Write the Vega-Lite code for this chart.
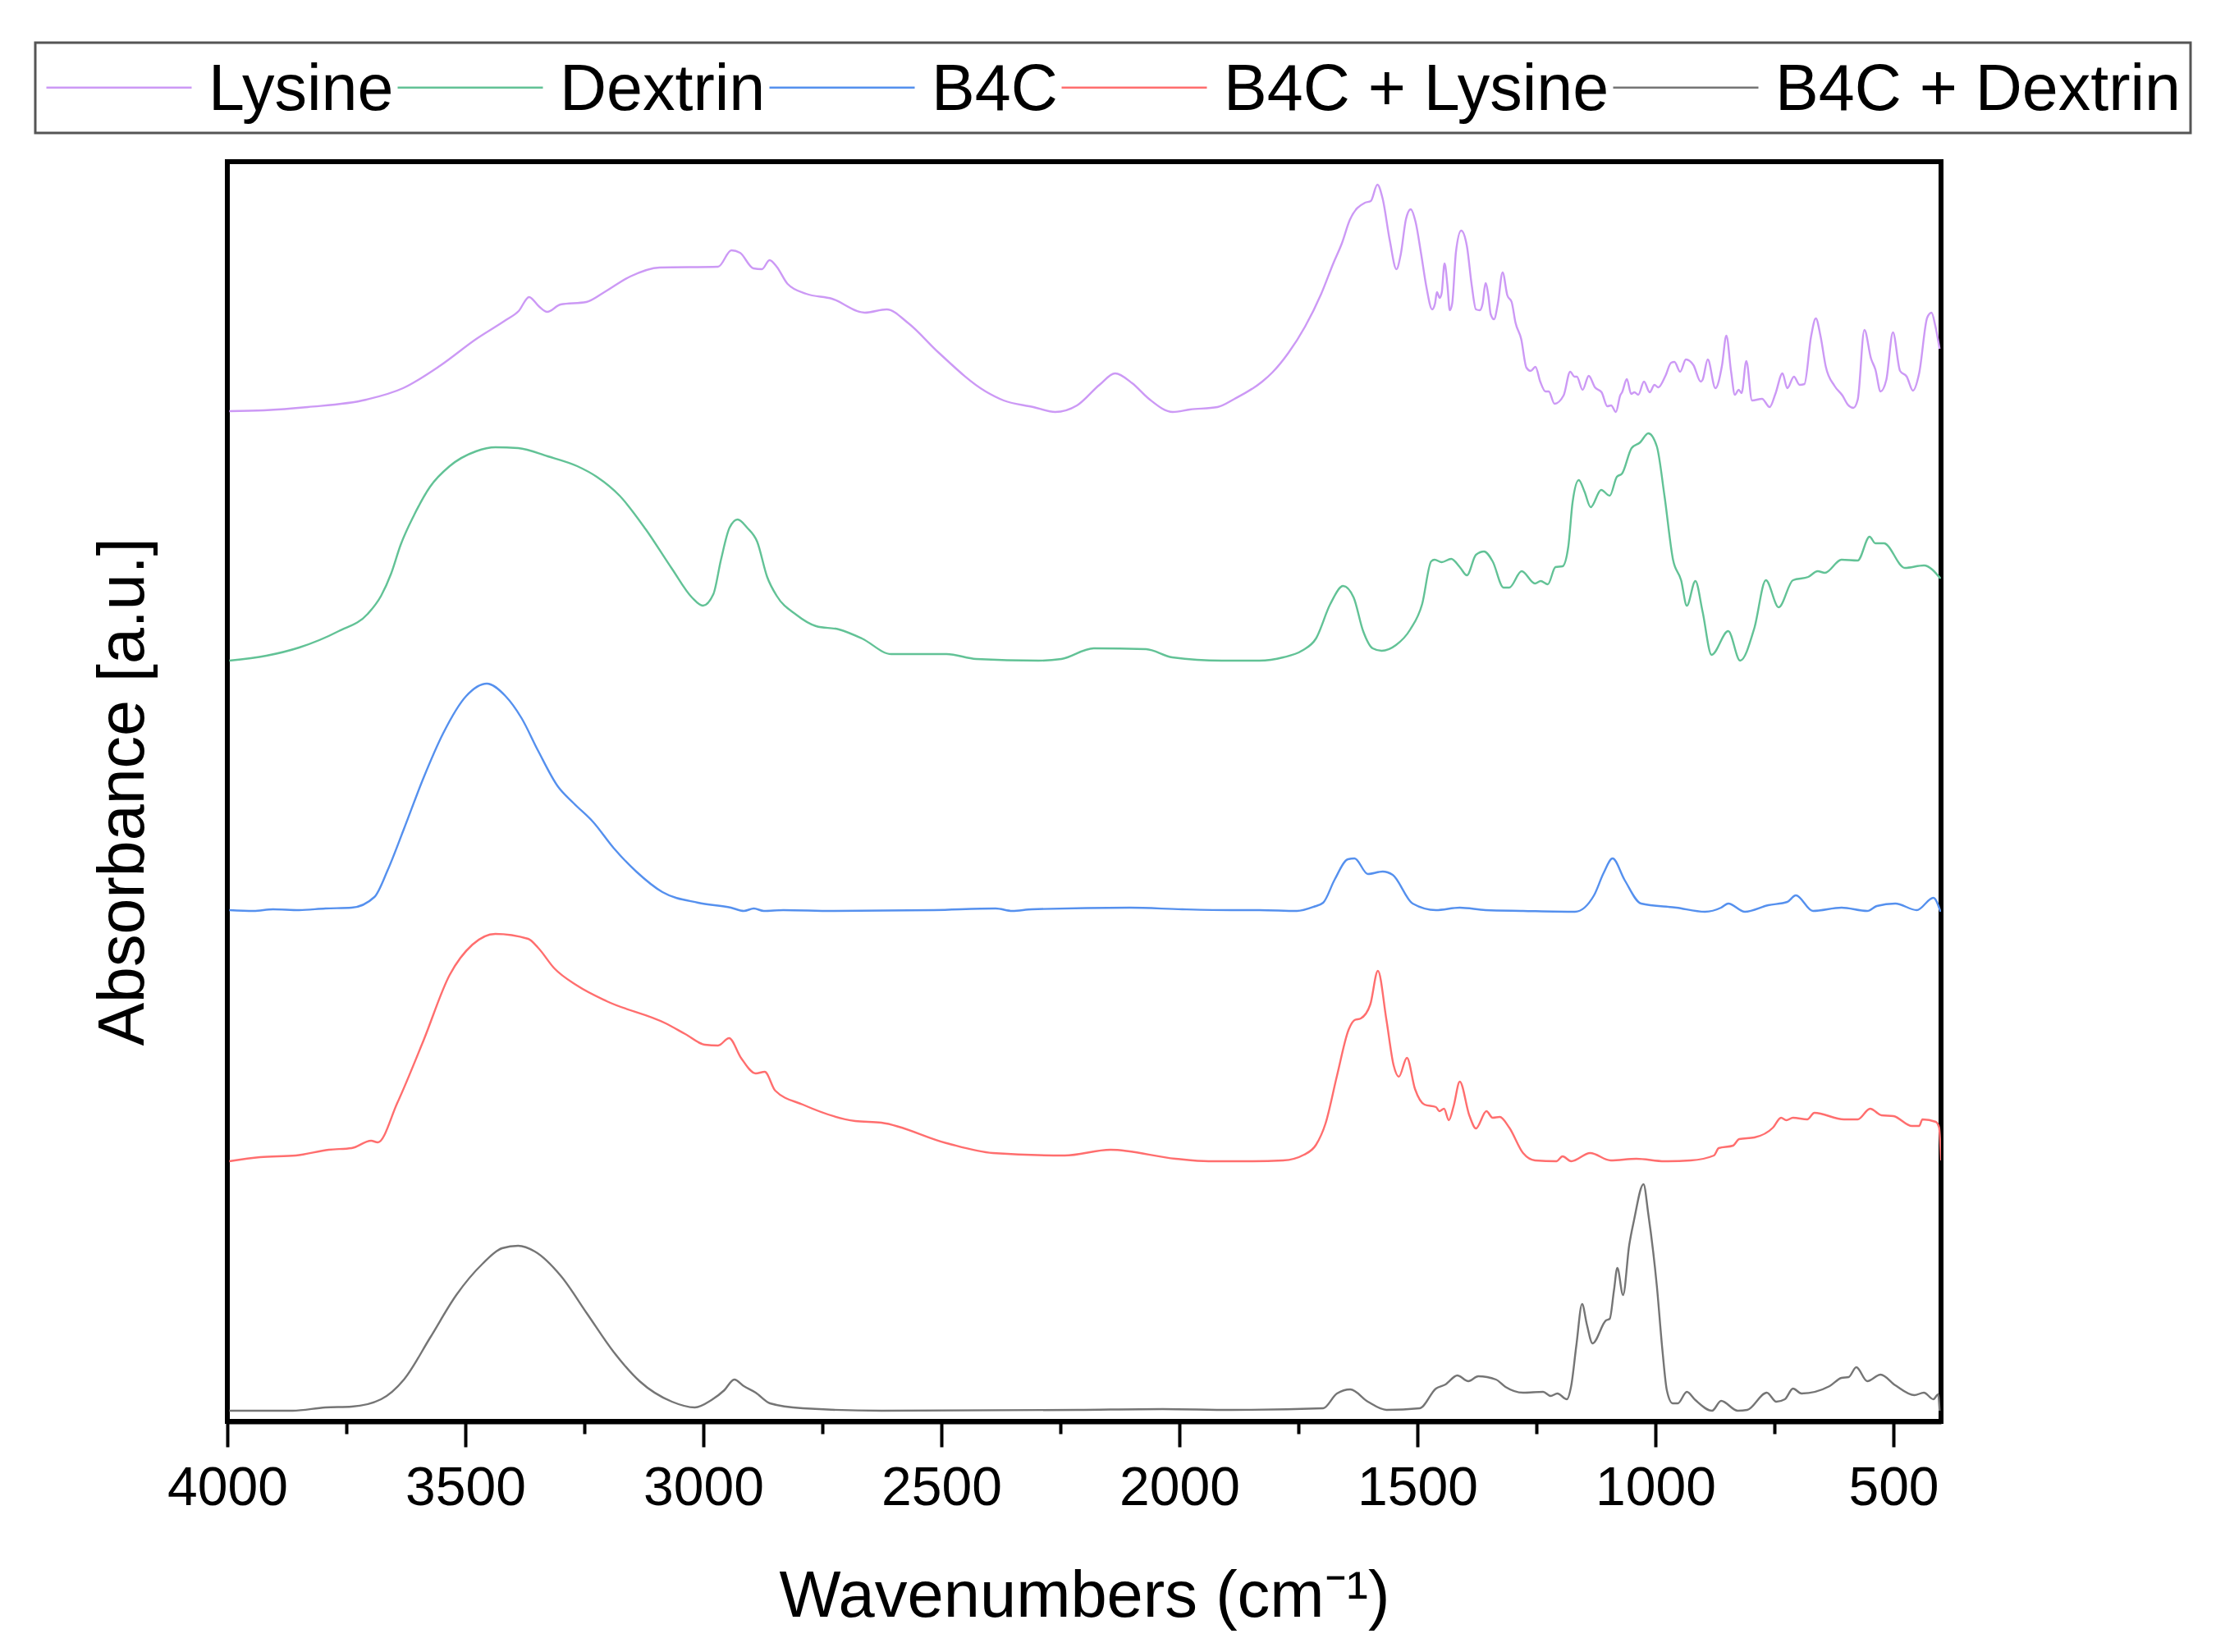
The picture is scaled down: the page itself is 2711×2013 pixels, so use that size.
{
"$schema":"https://vega.github.io/schema/vega-lite/v6.json",
"width":2088,"height":1535,
"autosize":"none",
"padding":{"left":277,"top":197,"right":346,"bottom":281},
"background":"white",
"config":{"view":{"stroke":"#000","strokeWidth":6},"font":"Liberation Sans","legend":{"strokeWidth":3}},
"datasets":{"spectra":[
{"name":"Lysine","wn":3996,"abs":1231},{"name":"Lysine","wn":3923,"abs":1232},{"name":"Lysine","wn":3831,"abs":1236},{"name":"Lysine","wn":3708,"abs":1245},{"name":"Lysine","wn":3631,"abs":1259},{"name":"Lysine","wn":3554,"abs":1286},{"name":"Lysine","wn":3477,"abs":1319},{"name":"Lysine","wn":3415,"abs":1342},{"name":"Lysine","wn":3388,"abs":1353},{"name":"Lysine","wn":3366,"abs":1370},{"name":"Lysine","wn":3346,"abs":1359},{"name":"Lysine","wn":3328,"abs":1352},{"name":"Lysine","wn":3300,"abs":1361},{"name":"Lysine","wn":3246,"abs":1364},{"name":"Lysine","wn":3208,"abs":1376},{"name":"Lysine","wn":3154,"abs":1395},{"name":"Lysine","wn":3092,"abs":1406},{"name":"Lysine","wn":2969,"abs":1407},{"name":"Lysine","wn":2941,"abs":1427},{"name":"Lysine","wn":2923,"abs":1424},{"name":"Lysine","wn":2895,"abs":1405},{"name":"Lysine","wn":2877,"abs":1404},{"name":"Lysine","wn":2861,"abs":1415},{"name":"Lysine","wn":2846,"abs":1407},{"name":"Lysine","wn":2823,"abs":1386},{"name":"Lysine","wn":2784,"abs":1374},{"name":"Lysine","wn":2730,"abs":1368},{"name":"Lysine","wn":2661,"abs":1351},{"name":"Lysine","wn":2615,"abs":1355},{"name":"Lysine","wn":2569,"abs":1338},{"name":"Lysine","wn":2507,"abs":1303},{"name":"Lysine","wn":2407,"abs":1255},{"name":"Lysine","wn":2369,"abs":1244},{"name":"Lysine","wn":2307,"abs":1236},{"name":"Lysine","wn":2261,"abs":1230},{"name":"Lysine","wn":2215,"abs":1238},{"name":"Lysine","wn":2168,"abs":1263},{"name":"Lysine","wn":2135,"abs":1277},{"name":"Lysine","wn":2099,"abs":1265},{"name":"Lysine","wn":2064,"abs":1246},{"name":"Lysine","wn":2014,"abs":1230},{"name":"Lysine","wn":1978,"abs":1233},{"name":"Lysine","wn":1920,"abs":1236},{"name":"Lysine","wn":1884,"abs":1246},{"name":"Lysine","wn":1826,"abs":1267},{"name":"Lysine","wn":1805,"abs":1278},{"name":"Lysine","wn":1771,"abs":1302},{"name":"Lysine","wn":1736,"abs":1334},{"name":"Lysine","wn":1702,"abs":1374},{"name":"Lysine","wn":1676,"abs":1412},{"name":"Lysine","wn":1659,"abs":1435},{"name":"Lysine","wn":1642,"abs":1464},{"name":"Lysine","wn":1610,"abs":1485},{"name":"Lysine","wn":1598,"abs":1487},{"name":"Lysine","wn":1584,"abs":1507},{"name":"Lysine","wn":1573,"abs":1490},{"name":"Lysine","wn":1558,"abs":1439},{"name":"Lysine","wn":1544,"abs":1404},{"name":"Lysine","wn":1535,"abs":1422},{"name":"Lysine","wn":1524,"abs":1465},{"name":"Lysine","wn":1514,"abs":1477},{"name":"Lysine","wn":1504,"abs":1462},{"name":"Lysine","wn":1492,"abs":1422},{"name":"Lysine","wn":1481,"abs":1382},{"name":"Lysine","wn":1469,"abs":1355},{"name":"Lysine","wn":1463,"abs":1362},{"name":"Lysine","wn":1459,"abs":1376},{"name":"Lysine","wn":1453,"abs":1369},{"name":"Lysine","wn":1449,"abs":1375},{"name":"Lysine","wn":1443,"abs":1411},{"name":"Lysine","wn":1437,"abs":1385},{"name":"Lysine","wn":1432,"abs":1354},{"name":"Lysine","wn":1427,"abs":1362},{"name":"Lysine","wn":1419,"abs":1425},{"name":"Lysine","wn":1408,"abs":1451},{"name":"Lysine","wn":1396,"abs":1432},{"name":"Lysine","wn":1386,"abs":1385},{"name":"Lysine","wn":1377,"abs":1355},{"name":"Lysine","wn":1369,"abs":1354},{"name":"Lysine","wn":1363,"abs":1362},{"name":"Lysine","wn":1357,"abs":1387},{"name":"Lysine","wn":1351,"abs":1372},{"name":"Lysine","wn":1346,"abs":1349},{"name":"Lysine","wn":1339,"abs":1343},{"name":"Lysine","wn":1331,"abs":1362},{"name":"Lysine","wn":1321,"abs":1400},{"name":"Lysine","wn":1311,"abs":1372},{"name":"Lysine","wn":1302,"abs":1364},{"name":"Lysine","wn":1294,"abs":1339},{"name":"Lysine","wn":1282,"abs":1319},{"name":"Lysine","wn":1271,"abs":1284},{"name":"Lysine","wn":1262,"abs":1280},{"name":"Lysine","wn":1252,"abs":1285},{"name":"Lysine","wn":1242,"abs":1267},{"name":"Lysine","wn":1231,"abs":1255},{"name":"Lysine","wn":1224,"abs":1255},{"name":"Lysine","wn":1212,"abs":1240},{"name":"Lysine","wn":1193,"abs":1250},{"name":"Lysine","wn":1179,"abs":1279},{"name":"Lysine","wn":1170,"abs":1273},{"name":"Lysine","wn":1165,"abs":1273},{"name":"Lysine","wn":1153,"abs":1257},{"name":"Lysine","wn":1140,"abs":1274},{"name":"Lysine","wn":1127,"abs":1260},{"name":"Lysine","wn":1113,"abs":1254},{"name":"Lysine","wn":1101,"abs":1237},{"name":"Lysine","wn":1093,"abs":1238},{"name":"Lysine","wn":1083,"abs":1230},{"name":"Lysine","wn":1074,"abs":1250},{"name":"Lysine","wn":1070,"abs":1254},{"name":"Lysine","wn":1060,"abs":1270},{"name":"Lysine","wn":1051,"abs":1252},{"name":"Lysine","wn":1044,"abs":1254},{"name":"Lysine","wn":1036,"abs":1251},{"name":"Lysine","wn":1024,"abs":1267},{"name":"Lysine","wn":1012,"abs":1254},{"name":"Lysine","wn":1002,"abs":1263},{"name":"Lysine","wn":994,"abs":1260},{"name":"Lysine","wn":979,"abs":1274},{"name":"Lysine","wn":967,"abs":1290},{"name":"Lysine","wn":960,"abs":1291},{"name":"Lysine","wn":948,"abs":1279},{"name":"Lysine","wn":936,"abs":1294},{"name":"Lysine","wn":920,"abs":1287},{"name":"Lysine","wn":905,"abs":1267},{"name":"Lysine","wn":901,"abs":1269},{"name":"Lysine","wn":890,"abs":1294},{"name":"Lysine","wn":874,"abs":1259},{"name":"Lysine","wn":860,"abs":1287},{"name":"Lysine","wn":851,"abs":1323},{"name":"Lysine","wn":841,"abs":1279},{"name":"Lysine","wn":833,"abs":1251},{"name":"Lysine","wn":825,"abs":1257},{"name":"Lysine","wn":819,"abs":1253},{"name":"Lysine","wn":809,"abs":1292},{"name":"Lysine","wn":797,"abs":1244},{"name":"Lysine","wn":776,"abs":1246},{"name":"Lysine","wn":760,"abs":1236},{"name":"Lysine","wn":748,"abs":1252},{"name":"Lysine","wn":733,"abs":1277},{"name":"Lysine","wn":723,"abs":1259},{"name":"Lysine","wn":709,"abs":1273},{"name":"Lysine","wn":697,"abs":1263},{"name":"Lysine","wn":687,"abs":1264},{"name":"Lysine","wn":673,"abs":1322},{"name":"Lysine","wn":663,"abs":1344},{"name":"Lysine","wn":653,"abs":1322},{"name":"Lysine","wn":642,"abs":1285},{"name":"Lysine","wn":624,"abs":1262},{"name":"Lysine","wn":607,"abs":1250},{"name":"Lysine","wn":596,"abs":1239},{"name":"Lysine","wn":584,"abs":1235},{"name":"Lysine","wn":575,"abs":1245},{"name":"Lysine","wn":561,"abs":1330},{"name":"Lysine","wn":547,"abs":1295},{"name":"Lysine","wn":538,"abs":1282},{"name":"Lysine","wn":527,"abs":1255},{"name":"Lysine","wn":515,"abs":1269},{"name":"Lysine","wn":501,"abs":1327},{"name":"Lysine","wn":486,"abs":1280},{"name":"Lysine","wn":472,"abs":1273},{"name":"Lysine","wn":459,"abs":1256},{"name":"Lysine","wn":446,"abs":1277},{"name":"Lysine","wn":429,"abs":1345},{"name":"Lysine","wn":420,"abs":1351},{"name":"Lysine","wn":412,"abs":1335},{"name":"Lysine","wn":403,"abs":1307},
{"name":"Dextrin","wn":3996,"abs":927},{"name":"Dextrin","wn":3918,"abs":933},{"name":"Dextrin","wn":3849,"abs":943},{"name":"Dextrin","wn":3766,"abs":963},{"name":"Dextrin","wn":3705,"abs":984},{"name":"Dextrin","wn":3677,"abs":1006},{"name":"Dextrin","wn":3656,"abs":1033},{"name":"Dextrin","wn":3636,"abs":1068},{"name":"Dextrin","wn":3608,"abs":1104},{"name":"Dextrin","wn":3574,"abs":1139},{"name":"Dextrin","wn":3533,"abs":1164},{"name":"Dextrin","wn":3478,"abs":1182},{"name":"Dextrin","wn":3437,"abs":1187},{"name":"Dextrin","wn":3389,"abs":1186},{"name":"Dextrin","wn":3327,"abs":1176},{"name":"Dextrin","wn":3265,"abs":1164},{"name":"Dextrin","wn":3224,"abs":1151},{"name":"Dextrin","wn":3176,"abs":1128},{"name":"Dextrin","wn":3121,"abs":1087},{"name":"Dextrin","wn":3066,"abs":1039},{"name":"Dextrin","wn":3024,"abs":1004},{"name":"Dextrin","wn":3001,"abs":994},{"name":"Dextrin","wn":2979,"abs":1008},{"name":"Dextrin","wn":2963,"abs":1050},{"name":"Dextrin","wn":2945,"abs":1089},{"name":"Dextrin","wn":2928,"abs":1099},{"name":"Dextrin","wn":2908,"abs":1089},{"name":"Dextrin","wn":2887,"abs":1072},{"name":"Dextrin","wn":2866,"abs":1029},{"name":"Dextrin","wn":2846,"abs":1006},{"name":"Dextrin","wn":2805,"abs":983},{"name":"Dextrin","wn":2763,"abs":969},{"name":"Dextrin","wn":2715,"abs":965},{"name":"Dextrin","wn":2667,"abs":954},{"name":"Dextrin","wn":2605,"abs":935},{"name":"Dextrin","wn":2489,"abs":935},{"name":"Dextrin","wn":2427,"abs":929},{"name":"Dextrin","wn":2296,"abs":927},{"name":"Dextrin","wn":2248,"abs":929},{"name":"Dextrin","wn":2180,"abs":942},{"name":"Dextrin","wn":2070,"abs":941},{"name":"Dextrin","wn":2015,"abs":931},{"name":"Dextrin","wn":1911,"abs":927},{"name":"Dextrin","wn":1832,"abs":927},{"name":"Dextrin","wn":1782,"abs":931},{"name":"Dextrin","wn":1743,"abs":939},{"name":"Dextrin","wn":1713,"abs":954},{"name":"Dextrin","wn":1683,"abs":996},{"name":"Dextrin","wn":1656,"abs":1018},{"name":"Dextrin","wn":1634,"abs":1004},{"name":"Dextrin","wn":1614,"abs":963},{"name":"Dextrin","wn":1594,"abs":942},{"name":"Dextrin","wn":1575,"abs":939},{"name":"Dextrin","wn":1545,"abs":946},{"name":"Dextrin","wn":1515,"abs":965},{"name":"Dextrin","wn":1490,"abs":996},{"name":"Dextrin","wn":1471,"abs":1048},{"name":"Dextrin","wn":1464,"abs":1050},{"name":"Dextrin","wn":1449,"abs":1047},{"name":"Dextrin","wn":1429,"abs":1051},{"name":"Dextrin","wn":1411,"abs":1041},{"name":"Dextrin","wn":1396,"abs":1031},{"name":"Dextrin","wn":1377,"abs":1056},{"name":"Dextrin","wn":1360,"abs":1060},{"name":"Dextrin","wn":1342,"abs":1048},{"name":"Dextrin","wn":1319,"abs":1016},{"name":"Dextrin","wn":1307,"abs":1016},{"name":"Dextrin","wn":1281,"abs":1036},{"name":"Dextrin","wn":1253,"abs":1021},{"name":"Dextrin","wn":1241,"abs":1024},{"name":"Dextrin","wn":1226,"abs":1020},{"name":"Dextrin","wn":1210,"abs":1041},{"name":"Dextrin","wn":1195,"abs":1042},{"name":"Dextrin","wn":1183,"abs":1066},{"name":"Dextrin","wn":1174,"abs":1120},{"name":"Dextrin","wn":1161,"abs":1147},{"name":"Dextrin","wn":1149,"abs":1133},{"name":"Dextrin","wn":1136,"abs":1114},{"name":"Dextrin","wn":1114,"abs":1135},{"name":"Dextrin","wn":1096,"abs":1128},{"name":"Dextrin","wn":1081,"abs":1151},{"name":"Dextrin","wn":1070,"abs":1155},{"name":"Dextrin","wn":1050,"abs":1186},{"name":"Dextrin","wn":1032,"abs":1193},{"name":"Dextrin","wn":1015,"abs":1204},{"name":"Dextrin","wn":997,"abs":1188},{"name":"Dextrin","wn":981,"abs":1128},{"name":"Dextrin","wn":963,"abs":1050},{"name":"Dextrin","wn":946,"abs":1025},{"name":"Dextrin","wn":934,"abs":994},{"name":"Dextrin","wn":916,"abs":1024},{"name":"Dextrin","wn":901,"abs":987},{"name":"Dextrin","wn":882,"abs":934},{"name":"Dextrin","wn":847,"abs":963},{"name":"Dextrin","wn":822,"abs":927},{"name":"Dextrin","wn":792,"abs":967},{"name":"Dextrin","wn":768,"abs":1025},{"name":"Dextrin","wn":741,"abs":992},{"name":"Dextrin","wn":711,"abs":1025},{"name":"Dextrin","wn":679,"abs":1029},{"name":"Dextrin","wn":659,"abs":1036},{"name":"Dextrin","wn":644,"abs":1034},{"name":"Dextrin","wn":609,"abs":1050},{"name":"Dextrin","wn":575,"abs":1049},{"name":"Dextrin","wn":550,"abs":1078},{"name":"Dextrin","wn":538,"abs":1070},{"name":"Dextrin","wn":520,"abs":1070},{"name":"Dextrin","wn":476,"abs":1040},{"name":"Dextrin","wn":436,"abs":1043},{"name":"Dextrin","wn":401,"abs":1027},
{"name":"B4C","wn":3996,"abs":623},{"name":"B4C","wn":3945,"abs":622},{"name":"B4C","wn":3904,"abs":624},{"name":"B4C","wn":3849,"abs":623},{"name":"B4C","wn":3794,"abs":625},{"name":"B4C","wn":3739,"abs":626},{"name":"B4C","wn":3691,"abs":639},{"name":"B4C","wn":3663,"abs":672},{"name":"B4C","wn":3629,"abs":722},{"name":"B4C","wn":3588,"abs":784},{"name":"B4C","wn":3547,"abs":838},{"name":"B4C","wn":3498,"abs":884},{"name":"B4C","wn":3455,"abs":899},{"name":"B4C","wn":3416,"abs":884},{"name":"B4C","wn":3382,"abs":857},{"name":"B4C","wn":3347,"abs":817},{"name":"B4C","wn":3306,"abs":774},{"name":"B4C","wn":3272,"abs":753},{"name":"B4C","wn":3231,"abs":730},{"name":"B4C","wn":3189,"abs":699},{"name":"B4C","wn":3141,"abs":670},{"name":"B4C","wn":3086,"abs":645},{"name":"B4C","wn":3011,"abs":632},{"name":"B4C","wn":2942,"abs":626},{"name":"B4C","wn":2915,"abs":622},{"name":"B4C","wn":2894,"abs":625},{"name":"B4C","wn":2873,"abs":622},{"name":"B4C","wn":2832,"abs":623},{"name":"B4C","wn":2729,"abs":622},{"name":"B4C","wn":2516,"abs":623},{"name":"B4C","wn":2386,"abs":625},{"name":"B4C","wn":2351,"abs":622},{"name":"B4C","wn":2310,"abs":624},{"name":"B4C","wn":2104,"abs":626},{"name":"B4C","wn":1994,"abs":624},{"name":"B4C","wn":1891,"abs":623},{"name":"B4C","wn":1832,"abs":623},{"name":"B4C","wn":1753,"abs":622},{"name":"B4C","wn":1718,"abs":627},{"name":"B4C","wn":1698,"abs":632},{"name":"B4C","wn":1674,"abs":660},{"name":"B4C","wn":1646,"abs":685},{"name":"B4C","wn":1632,"abs":686},{"name":"B4C","wn":1604,"abs":667},{"name":"B4C","wn":1573,"abs":670},{"name":"B4C","wn":1552,"abs":666},{"name":"B4C","wn":1510,"abs":631},{"name":"B4C","wn":1461,"abs":623},{"name":"B4C","wn":1411,"abs":626},{"name":"B4C","wn":1357,"abs":623},{"name":"B4C","wn":1278,"abs":622},{"name":"B4C","wn":1169,"abs":621},{"name":"B4C","wn":1129,"abs":641},{"name":"B4C","wn":1109,"abs":668},{"name":"B4C","wn":1090,"abs":686},{"name":"B4C","wn":1065,"abs":660},{"name":"B4C","wn":1030,"abs":631},{"name":"B4C","wn":956,"abs":626},{"name":"B4C","wn":896,"abs":621},{"name":"B4C","wn":862,"abs":626},{"name":"B4C","wn":847,"abs":631},{"name":"B4C","wn":812,"abs":621},{"name":"B4C","wn":763,"abs":629},{"name":"B4C","wn":723,"abs":633},{"name":"B4C","wn":705,"abs":641},{"name":"B4C","wn":669,"abs":622},{"name":"B4C","wn":609,"abs":626},{"name":"B4C","wn":555,"abs":622},{"name":"B4C","wn":535,"abs":628},{"name":"B4C","wn":496,"abs":631},{"name":"B4C","wn":451,"abs":623},{"name":"B4C","wn":416,"abs":638},{"name":"B4C","wn":401,"abs":621},
{"name":"B4C + Lysine","wn":3996,"abs":317},{"name":"B4C + Lysine","wn":3931,"abs":322},{"name":"B4C + Lysine","wn":3856,"abs":324},{"name":"B4C + Lysine","wn":3787,"abs":331},{"name":"B4C + Lysine","wn":3739,"abs":333},{"name":"B4C + Lysine","wn":3698,"abs":342},{"name":"B4C + Lysine","wn":3684,"abs":340},{"name":"B4C + Lysine","wn":3643,"abs":388},{"name":"B4C + Lysine","wn":3588,"abs":464},{"name":"B4C + Lysine","wn":3533,"abs":544},{"name":"B4C + Lysine","wn":3485,"abs":581},{"name":"B4C + Lysine","wn":3437,"abs":594},{"name":"B4C + Lysine","wn":3368,"abs":588},{"name":"B4C + Lysine","wn":3347,"abs":577},{"name":"B4C + Lysine","wn":3313,"abs":552},{"name":"B4C + Lysine","wn":3265,"abs":531},{"name":"B4C + Lysine","wn":3203,"abs":512},{"name":"B4C + Lysine","wn":3079,"abs":485},{"name":"B4C + Lysine","wn":3038,"abs":472},{"name":"B4C + Lysine","wn":2997,"abs":459},{"name":"B4C + Lysine","wn":2969,"abs":458},{"name":"B4C + Lysine","wn":2946,"abs":467},{"name":"B4C + Lysine","wn":2921,"abs":443},{"name":"B4C + Lysine","wn":2890,"abs":424},{"name":"B4C + Lysine","wn":2871,"abs":426},{"name":"B4C + Lysine","wn":2849,"abs":403},{"name":"B4C + Lysine","wn":2791,"abs":386},{"name":"B4C + Lysine","wn":2681,"abs":366},{"name":"B4C + Lysine","wn":2626,"abs":364},{"name":"B4C + Lysine","wn":2489,"abs":339},{"name":"B4C + Lysine","wn":2392,"abs":327},{"name":"B4C + Lysine","wn":2241,"abs":324},{"name":"B4C + Lysine","wn":2145,"abs":331},{"name":"B4C + Lysine","wn":2008,"abs":320},{"name":"B4C + Lysine","wn":1939,"abs":317},{"name":"B4C + Lysine","wn":1846,"abs":317},{"name":"B4C + Lysine","wn":1782,"abs":318},{"name":"B4C + Lysine","wn":1738,"abs":325},{"name":"B4C + Lysine","wn":1713,"abs":337},{"name":"B4C + Lysine","wn":1693,"abs":363},{"name":"B4C + Lysine","wn":1669,"abs":421},{"name":"B4C + Lysine","wn":1644,"abs":478},{"name":"B4C + Lysine","wn":1632,"abs":489},{"name":"B4C + Lysine","wn":1619,"abs":491},{"name":"B4C + Lysine","wn":1599,"abs":508},{"name":"B4C + Lysine","wn":1583,"abs":549},{"name":"B4C + Lysine","wn":1565,"abs":489},{"name":"B4C + Lysine","wn":1550,"abs":434},{"name":"B4C + Lysine","wn":1539,"abs":420},{"name":"B4C + Lysine","wn":1522,"abs":443},{"name":"B4C + Lysine","wn":1505,"abs":405},{"name":"B4C + Lysine","wn":1485,"abs":386},{"name":"B4C + Lysine","wn":1461,"abs":383},{"name":"B4C + Lysine","wn":1454,"abs":378},{"name":"B4C + Lysine","wn":1444,"abs":381},{"name":"B4C + Lysine","wn":1434,"abs":367},{"name":"B4C + Lysine","wn":1424,"abs":384},{"name":"B4C + Lysine","wn":1411,"abs":414},{"name":"B4C + Lysine","wn":1391,"abs":373},{"name":"B4C + Lysine","wn":1377,"abs":357},{"name":"B4C + Lysine","wn":1355,"abs":378},{"name":"B4C + Lysine","wn":1342,"abs":370},{"name":"B4C + Lysine","wn":1327,"abs":371},{"name":"B4C + Lysine","wn":1307,"abs":358},{"name":"B4C + Lysine","wn":1278,"abs":327},{"name":"B4C + Lysine","wn":1253,"abs":318},{"name":"B4C + Lysine","wn":1208,"abs":317},{"name":"B4C + Lysine","wn":1195,"abs":323},{"name":"B4C + Lysine","wn":1177,"abs":317},{"name":"B4C + Lysine","wn":1137,"abs":327},{"name":"B4C + Lysine","wn":1094,"abs":318},{"name":"B4C + Lysine","wn":1040,"abs":320},{"name":"B4C + Lysine","wn":981,"abs":317},{"name":"B4C + Lysine","wn":926,"abs":318},{"name":"B4C + Lysine","wn":877,"abs":324},{"name":"B4C + Lysine","wn":867,"abs":333},{"name":"B4C + Lysine","wn":837,"abs":336},{"name":"B4C + Lysine","wn":824,"abs":344},{"name":"B4C + Lysine","wn":792,"abs":346},{"name":"B4C + Lysine","wn":753,"abs":358},{"name":"B4C + Lysine","wn":736,"abs":370},{"name":"B4C + Lysine","wn":725,"abs":367},{"name":"B4C + Lysine","wn":711,"abs":370},{"name":"B4C + Lysine","wn":681,"abs":368},{"name":"B4C + Lysine","wn":666,"abs":376},{"name":"B4C + Lysine","wn":604,"abs":368},{"name":"B4C + Lysine","wn":575,"abs":368},{"name":"B4C + Lysine","wn":549,"abs":381},{"name":"B4C + Lysine","wn":525,"abs":373},{"name":"B4C + Lysine","wn":500,"abs":372},{"name":"B4C + Lysine","wn":461,"abs":360},{"name":"B4C + Lysine","wn":446,"abs":360},{"name":"B4C + Lysine","wn":439,"abs":368},{"name":"B4C + Lysine","wn":411,"abs":365},{"name":"B4C + Lysine","wn":404,"abs":358},{"name":"B4C + Lysine","wn":400,"abs":318},
{"name":"B4C + Dextrin","wn":3996,"abs":13},{"name":"B4C + Dextrin","wn":3863,"abs":13},{"name":"B4C + Dextrin","wn":3794,"abs":17},{"name":"B4C + Dextrin","wn":3739,"abs":18},{"name":"B4C + Dextrin","wn":3677,"abs":27},{"name":"B4C + Dextrin","wn":3629,"abs":51},{"name":"B4C + Dextrin","wn":3574,"abs":102},{"name":"B4C + Dextrin","wn":3519,"abs":154},{"name":"B4C + Dextrin","wn":3464,"abs":192},{"name":"B4C + Dextrin","wn":3423,"abs":211},{"name":"B4C + Dextrin","wn":3389,"abs":214},{"name":"B4C + Dextrin","wn":3354,"abs":207},{"name":"B4C + Dextrin","wn":3299,"abs":177},{"name":"B4C + Dextrin","wn":3244,"abs":131},{"name":"B4C + Dextrin","wn":3189,"abs":85},{"name":"B4C + Dextrin","wn":3134,"abs":49},{"name":"B4C + Dextrin","wn":3066,"abs":24},{"name":"B4C + Dextrin","wn":3018,"abs":17},{"name":"B4C + Dextrin","wn":2983,"abs":26},{"name":"B4C + Dextrin","wn":2956,"abs":38},{"name":"B4C + Dextrin","wn":2935,"abs":51},{"name":"B4C + Dextrin","wn":2915,"abs":43},{"name":"B4C + Dextrin","wn":2890,"abs":35},{"name":"B4C + Dextrin","wn":2860,"abs":22},{"name":"B4C + Dextrin","wn":2791,"abs":16},{"name":"B4C + Dextrin","wn":2626,"abs":13},{"name":"B4C + Dextrin","wn":2214,"abs":14},{"name":"B4C + Dextrin","wn":2035,"abs":15},{"name":"B4C + Dextrin","wn":1891,"abs":14},{"name":"B4C + Dextrin","wn":1698,"abs":16},{"name":"B4C + Dextrin","wn":1669,"abs":34},{"name":"B4C + Dextrin","wn":1641,"abs":39},{"name":"B4C + Dextrin","wn":1604,"abs":24},{"name":"B4C + Dextrin","wn":1565,"abs":14},{"name":"B4C + Dextrin","wn":1495,"abs":16},{"name":"B4C + Dextrin","wn":1461,"abs":40},{"name":"B4C + Dextrin","wn":1441,"abs":45},{"name":"B4C + Dextrin","wn":1416,"abs":56},{"name":"B4C + Dextrin","wn":1393,"abs":49},{"name":"B4C + Dextrin","wn":1372,"abs":55},{"name":"B4C + Dextrin","wn":1335,"abs":51},{"name":"B4C + Dextrin","wn":1315,"abs":42},{"name":"B4C + Dextrin","wn":1278,"abs":35},{"name":"B4C + Dextrin","wn":1236,"abs":36},{"name":"B4C + Dextrin","wn":1220,"abs":31},{"name":"B4C + Dextrin","wn":1206,"abs":34},{"name":"B4C + Dextrin","wn":1186,"abs":27},{"name":"B4C + Dextrin","wn":1177,"abs":43},{"name":"B4C + Dextrin","wn":1166,"abs":93},{"name":"B4C + Dextrin","wn":1154,"abs":143},{"name":"B4C + Dextrin","wn":1144,"abs":118},{"name":"B4C + Dextrin","wn":1132,"abs":95},{"name":"B4C + Dextrin","wn":1104,"abs":123},{"name":"B4C + Dextrin","wn":1096,"abs":125},{"name":"B4C + Dextrin","wn":1087,"abs":160},{"name":"B4C + Dextrin","wn":1080,"abs":187},{"name":"B4C + Dextrin","wn":1068,"abs":154},{"name":"B4C + Dextrin","wn":1055,"abs":215},{"name":"B4C + Dextrin","wn":1045,"abs":245},{"name":"B4C + Dextrin","wn":1025,"abs":289},{"name":"B4C + Dextrin","wn":1015,"abs":253},{"name":"B4C + Dextrin","wn":997,"abs":165},{"name":"B4C + Dextrin","wn":985,"abs":85},{"name":"B4C + Dextrin","wn":976,"abs":38},{"name":"B4C + Dextrin","wn":964,"abs":22},{"name":"B4C + Dextrin","wn":953,"abs":22},{"name":"B4C + Dextrin","wn":934,"abs":36},{"name":"B4C + Dextrin","wn":916,"abs":26},{"name":"B4C + Dextrin","wn":881,"abs":13},{"name":"B4C + Dextrin","wn":862,"abs":25},{"name":"B4C + Dextrin","wn":827,"abs":13},{"name":"B4C + Dextrin","wn":807,"abs":14},{"name":"B4C + Dextrin","wn":766,"abs":35},{"name":"B4C + Dextrin","wn":746,"abs":24},{"name":"B4C + Dextrin","wn":728,"abs":27},{"name":"B4C + Dextrin","wn":711,"abs":40},{"name":"B4C + Dextrin","wn":693,"abs":34},{"name":"B4C + Dextrin","wn":634,"abs":43},{"name":"B4C + Dextrin","wn":609,"abs":53},{"name":"B4C + Dextrin","wn":594,"abs":54},{"name":"B4C + Dextrin","wn":578,"abs":66},{"name":"B4C + Dextrin","wn":555,"abs":49},{"name":"B4C + Dextrin","wn":527,"abs":57},{"name":"B4C + Dextrin","wn":496,"abs":44},{"name":"B4C + Dextrin","wn":456,"abs":32},{"name":"B4C + Dextrin","wn":436,"abs":35},{"name":"B4C + Dextrin","wn":416,"abs":27},{"name":"B4C + Dextrin","wn":406,"abs":33},{"name":"B4C + Dextrin","wn":403,"abs":13}
]},
"data":{"name":"spectra"},
"mark":{"type":"line","strokeWidth":2.4,"clip":true,"interpolate":"monotone"},
"encoding":{
"x":{"field":"wn","type":"quantitative","title":"Wavenumbers (cm⁻¹)",
"scale":{"domain":[4000,400],"nice":false,"zero":false},
"axis":{"values":[4000,3750,3500,3250,3000,2750,2500,2250,2000,1750,1500,1250,1000,750,500],
"format":"d","labelExpr":"datum.value % 500 === 0 ? datum.label : ''",
"grid":false,"domain":true,"domainColor":"#000","domainWidth":6,"tickColor":"#000","tickWidth":4,
"tickSize":{"condition":{"test":"datum.value % 500 === 0","value":31},"value":15},
"labelFont":"Liberation Sans","labelFontSize":66,"labelColor":"#000","labelPadding":18,"labelOverlap":false,"labelFlush":false,
"titleFont":"Liberation Sans","titleFontSize":79.5,"titleFontWeight":"normal","titleColor":"#000","titlePadding":60}},
"y":{"field":"abs","type":"quantitative","title":"Absorbance [a.u.]",
"scale":{"domain":[0,1535],"nice":false},
"axis":{"ticks":false,"labels":false,"grid":false,"domain":false,
"titleFont":"Liberation Sans","titleFontSize":79,"titleFontWeight":"normal","titleColor":"#000","titlePadding":86}},
"color":{"field":"name","type":"nominal",
"scale":{"domain":["Lysine","Dextrin","B4C","B4C + Lysine","B4C + Dextrin"],"range":["#cc99f5","#62c296","#5590ee","#ff6e6e","#757575"]},
"legend":{"orient":"none","legendX":-234,"legendY":-145,"direction":"horizontal","columns":5,"title":null,
"symbolType":"stroke","symbolSize":31329,"symbolStrokeWidth":2.5,"clipHeight":85,
"labelFont":"Liberation Sans","labelFontSize":79,"labelColor":"#000","labelOffset":19,"labelLimit":900,
"columnPadding":3,"padding":12,"strokeColor":"#555","fillColor":"#fff",
"encode":{"labels":{"update":{"dy":{"value":3}}}}}}
}
}
